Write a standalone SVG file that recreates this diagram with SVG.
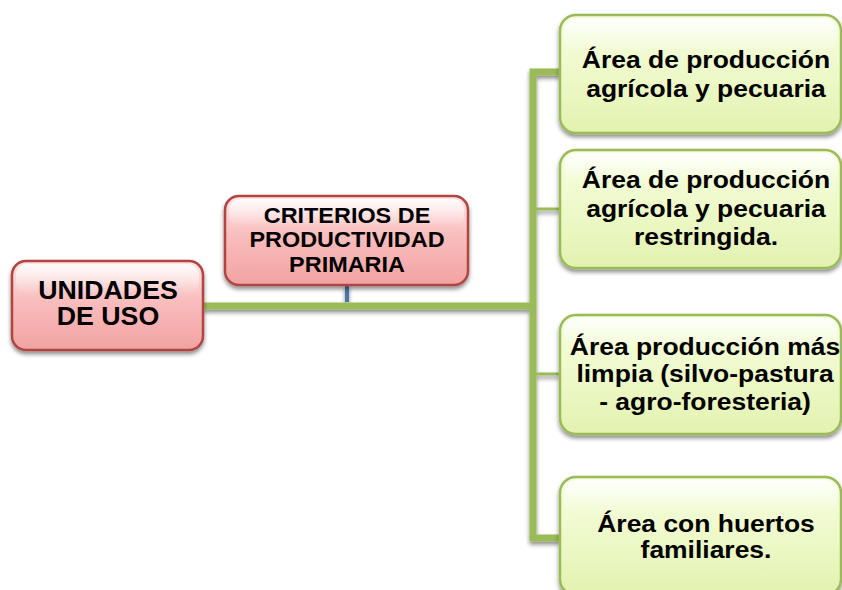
<svg xmlns="http://www.w3.org/2000/svg" width="842" height="590" viewBox="0 0 842 590">
<defs>
<linearGradient id="gPink" x1="0" y1="0" x2="0" y2="1">
<stop offset="0" stop-color="#fde4e4"/>
<stop offset="0.45" stop-color="#f9bdbd"/>
<stop offset="1" stop-color="#f2a2a2"/>
</linearGradient>
<linearGradient id="gGreen" x1="0" y1="0" x2="0" y2="1">
<stop offset="0" stop-color="#f6fde0"/>
<stop offset="0.5" stop-color="#eef9c9"/>
<stop offset="1" stop-color="#e2f2b0"/>
</linearGradient>
<linearGradient id="gGloss" x1="0" y1="0" x2="0" y2="1">
<stop offset="0" stop-color="#ffffff" stop-opacity="0.85"/>
<stop offset="1" stop-color="#ffffff" stop-opacity="0"/>
</linearGradient>
<filter id="sh" x="-10%" y="-10%" width="120%" height="130%">
<feDropShadow dx="0" dy="3" stdDeviation="2.2" flood-color="#000" flood-opacity="0.45"/>
</filter>
</defs>
<style>
.pink{fill:url(#gPink);stroke:#b04543;stroke-width:2.5}
.green{fill:url(#gGreen);stroke:#9bbb59;stroke-width:2.5}
.gloss{fill:url(#gGloss);stroke:none}
.t{font-family:"Liberation Sans",Arial,sans-serif;font-weight:bold;fill:#000;text-anchor:middle}
.tu{font-size:25px}
.tc{font-size:21.5px}
.tg{font-size:24.5px}
.main{fill:none;stroke:#9bbb59;stroke-width:7}
.thin{fill:none;stroke:#9bbb59;stroke-width:3}
.blue{fill:none;stroke:#4a74a8;stroke-width:4}
</style>
<g id="connectors" filter="url(#sh)">
<path class="main" d="M203,306 H533"/>
<path class="main" d="M560,72 H533 V538 H560"/>
<path class="thin" d="M533,209 H560"/>
<path class="thin" d="M533,374 H560"/>
<path class="blue" d="M347,285 V302"/>
</g>
<g id="unidades">
<rect class="pink" x="12" y="261" width="191" height="89" rx="14" filter="url(#sh)"/>
<rect class="gloss" x="16" y="264" width="183" height="30" rx="11"/>
<g transform="translate(108,0) scale(1.07,1)">
<text class="t tu" x="0" y="299">UNIDADES</text>
<text class="t tu" x="0" y="325">DE USO</text>
</g>
</g>
<g id="criterios">
<rect class="pink" x="225" y="196" width="243" height="89" rx="14" filter="url(#sh)"/>
<rect class="gloss" x="229" y="199" width="235" height="28" rx="11"/>
<g transform="translate(347,0) scale(1.09,1)">
<text class="t tc" x="0" y="223">CRITERIOS DE</text>
<text class="t tc" x="0" y="247">PRODUCTIVIDAD</text>
<text class="t tc" x="0" y="272">PRIMARIA</text>
</g>
</g>
<g id="area1">
<rect class="green" x="560" y="15" width="281" height="118" rx="16" filter="url(#sh)"/>
<rect class="gloss" x="564" y="18" width="273" height="34" rx="13"/>
<g transform="translate(706,0) scale(1.08,1)">
<text class="t tg" x="0" y="68">Área de producción</text>
<text class="t tg" x="0" y="97">agrícola y pecuaria</text>
</g>
</g>
<g id="area2">
<rect class="green" x="560" y="150" width="281" height="118" rx="16" filter="url(#sh)"/>
<rect class="gloss" x="564" y="153" width="273" height="30" rx="13"/>
<g transform="translate(706,0) scale(1.08,1)">
<text class="t tg" x="0" y="188">Área de producción</text>
<text class="t tg" x="0" y="217">agrícola y pecuaria</text>
<text class="t tg" x="0" y="245">restringida.</text>
</g>
</g>
<g id="area3">
<rect class="green" x="560" y="315" width="281" height="119" rx="16" filter="url(#sh)"/>
<rect class="gloss" x="564" y="318" width="273" height="30" rx="13"/>
<g transform="translate(705,0) scale(1.08,1)">
<text class="t tg" x="0" y="355">Área producción más</text>
<text class="t tg" x="0" y="382">limpia (silvo-pastura</text>
<text class="t tg" x="0" y="410">- agro-foresteria)</text>
</g>
</g>
<g id="area4">
<rect class="green" x="560" y="477" width="281" height="118" rx="16" filter="url(#sh)"/>
<rect class="gloss" x="564" y="480" width="273" height="34" rx="13"/>
<g transform="translate(706,0) scale(1.08,1)">
<text class="t tg" x="0" y="532">Área con huertos</text>
<text class="t tg" x="0" y="558">familiares.</text>
</g>
</g>
</svg>
